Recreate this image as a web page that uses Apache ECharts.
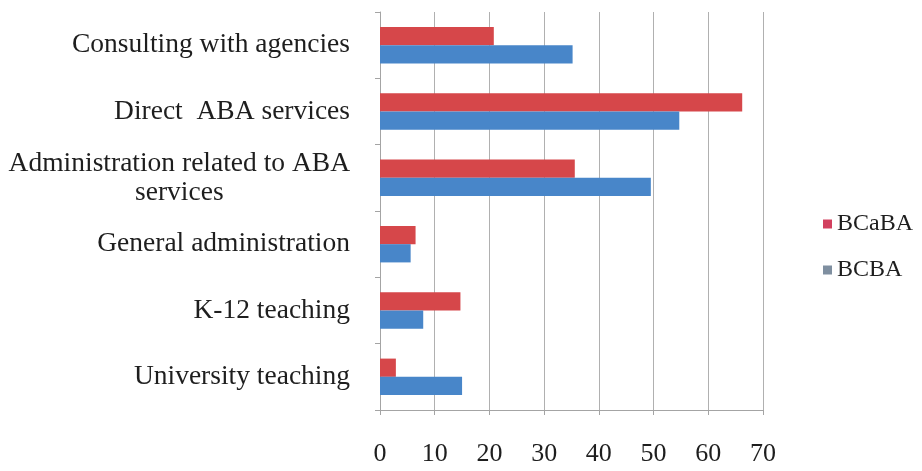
<!DOCTYPE html>
<html>
<head>
<meta charset="utf-8">
<script src="https://cdn.jsdelivr.net/npm/echarts@6/dist/echarts.min.js"></script>
<style>
  html, body { margin: 0; padding: 0; background: #ffffff; }
  #chart { width: 922px; height: 471px; }
</style>
</head>
<body>
<div id="chart"></div>
<script>
// Work settings, listed top to bottom
const categories = [
  'Consulting with agencies',
  'Direct  ABA services',
  'Administration related to ABA\nservices',
  'General administration',
  'K-12 teaching',
  'University teaching'
];
const bcabaValues = [20.8, 66.2, 35.6, 6.5, 14.7, 2.9];
const bcbaValues = [35.2, 54.7, 49.5, 5.6, 7.9, 15.0];
const xTicks = [0, 10, 20, 30, 40, 50, 60, 70];

const FONT = 'Liberation Serif';
const TEXT = '#1e1e1e';
const RED = '#d6474a';
const BLUE = '#4886c9';

const chart = echarts.init(document.getElementById('chart'));
chart.setOption({
  animation: false,
  backgroundColor: '#ffffff',
  grid: { left: 380, right: 159, top: 12, bottom: 61, containLabel: false },
  legend: {
    orient: 'vertical',
    left: 818,
    top: 207,
    itemWidth: 9,
    itemHeight: 9,
    itemGap: 22,
    icon: 'rect',
    textStyle: { fontFamily: FONT, fontSize: 24, color: TEXT },
    data: [
      { name: 'BCaBA', itemStyle: { color: '#d2405f' } },
      { name: 'BCBA', itemStyle: { color: '#7f8fa0' } }
    ]
  },
  xAxis: {
    type: 'value',
    min: xTicks[0],
    max: xTicks[xTicks.length - 1],
    interval: 10,
    axisLine: { show: true, lineStyle: { color: '#a4a4a4' } },
    axisTick: { show: true, length: 5, lineStyle: { color: '#a4a4a4' } },
    splitLine: { show: true, lineStyle: { color: '#b0b0b0', width: 1 } },
    axisLabel: { fontFamily: FONT, fontSize: 26, color: TEXT, margin: 31 }
  },
  yAxis: {
    type: 'category',
    inverse: true,
    data: categories,
    axisLine: { show: true, lineStyle: { color: '#a4a4a4' } },
    axisTick: { show: true, length: 5, lineStyle: { color: '#a4a4a4' } },
    axisLabel: {
      margin: 30,
      fontFamily: FONT,
      fontSize: 27.5,
      color: TEXT,
      formatter: v => v.split('\n').map(s => '{c|' + s + '}').join('\n'),
      rich: { c: { align: 'center', fontFamily: FONT, fontSize: 27.5, color: TEXT, lineHeight: 29 } }
    }
  },
  series: [
    {
      name: 'BCaBA',
      type: 'bar',
      data: bcabaValues,
      barGap: '0%',
      barCategoryGap: '45%',
      itemStyle: { color: RED }
    },
    {
      name: 'BCBA',
      type: 'bar',
      data: bcbaValues,
      barGap: '0%',
      barCategoryGap: '45%',
      itemStyle: { color: BLUE }
    }
  ]
});
</script>
</body>
</html>
